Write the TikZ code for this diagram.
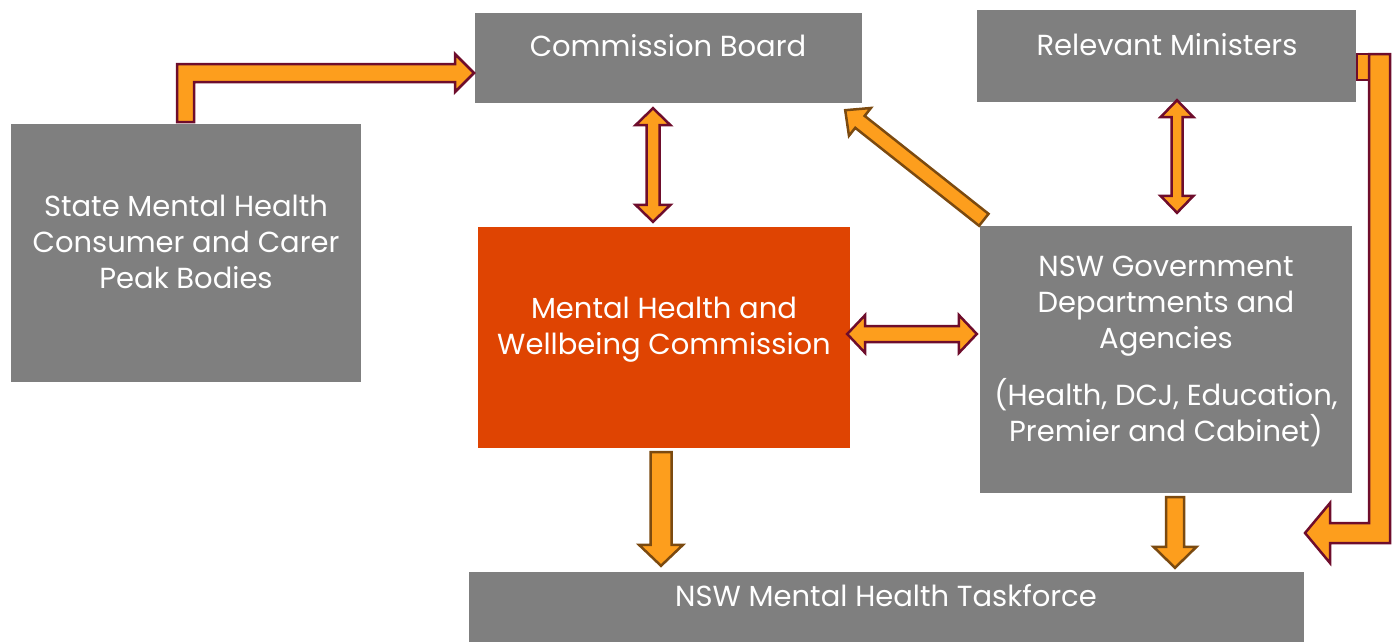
\documentclass[tikz,border=0pt]{standalone}
\usepackage{fontspec}
\setmainfont{Poppins}
\usetikzlibrary{calc}
\definecolor{boxgray}{HTML}{7F7F7F}
\definecolor{commorange}{HTML}{DF4402}
\definecolor{arrowfill}{HTML}{FD9E1D}
\definecolor{arrowmaroon}{HTML}{6E0D2C}
\definecolor{arrowbrown}{HTML}{7B4A10}

\tikzset{
  box/.style={fill=boxgray, draw=none, inner sep=0pt},
  lbl/.style={text=white, font=\fontsize{29}{36}\selectfont, align=center, inner sep=0pt},
  arrowA/.style={fill=arrowfill, draw=arrowmaroon, line width=2.5pt, line join=miter},
  arrowB/.style={fill=arrowfill, draw=arrowbrown, line width=2.5pt, line join=miter},
}

% block arrow: #1 style, #2 tail, #3 tip, #4 half shaft, #5 half head, #6 head length
\newcommand\blockarrow[6]{%
  \coordinate (ba-h) at ($(#3)!#6!(#2)$);
  \draw[#1] ($(#2)!#4!90:(#3)$) -- ($(ba-h)!#4!-90:(#2)$) -- ($(ba-h)!#5!-90:(#2)$)
    -- (#3) -- ($(ba-h)!#5!90:(#2)$) -- ($(ba-h)!#4!90:(#2)$) -- ($(#2)!#4!-90:(#3)$) -- cycle;
}
% two-headed block arrow between tips #2 and #3
\newcommand\twoheadarrow[6]{%
  \coordinate (da-a) at ($(#2)!#6!(#3)$);
  \coordinate (da-b) at ($(#3)!#6!(#2)$);
  \draw[#1] (#2) -- ($(da-a)!#5!90:(#3)$) -- ($(da-a)!#4!90:(#3)$)
    -- ($(da-b)!#4!-90:(#2)$) -- ($(da-b)!#5!-90:(#2)$) -- (#3)
    -- ($(da-b)!#5!90:(#2)$) -- ($(da-b)!#4!90:(#2)$)
    -- ($(da-a)!#4!-90:(#3)$) -- ($(da-a)!#5!-90:(#3)$) -- cycle;
}

\begin{document}
\begin{tikzpicture}[x=1pt, y=-1pt]
\useasboundingbox (0,0) rectangle (1395,641);

% boxes
\node[box, minimum width=387pt, minimum height=90pt] (cb) at (668.5,58) {};
\node[box, minimum width=379pt, minimum height=92pt] (rm) at (1166.5,56) {};
\node[box, minimum width=350pt, minimum height=258pt] (st) at (186,253) {};
\node[box, fill=commorange, minimum width=372pt, minimum height=221pt] (mh) at (664,337.5) {};
\node[box, minimum width=372pt, minimum height=267pt] (ng) at (1166,359.5) {};
\node[box, minimum width=835pt, minimum height=77pt] (tf) at (886.5,610.5) {};

% labels
\node[lbl] (cb-t) at (668,46) {Commission Board};
\node[lbl] (rm-t) at (1167,45) {Relevant Ministers};
\node[lbl] (st-t) at (186,242) {State Mental Health\\Consumer and Carer\\Peak Bodies};
\node[lbl] (mh-t) at (664,329.5) {Mental Health and\\Wellbeing Commission};
\node[lbl] (ng-t) at (1166,351.5) {NSW Government\\Departments and\\Agencies\\[21pt](Health, DCJ, Education,\\Premier and Cabinet)};
\node[lbl] (tf-t) at (886,596) {NSW Mental Health Taskforce};

% connector end points
\coordinate (cb-d) at ($(cb.south)+(-15.5,5)$);
\coordinate (mh-u) at ($(mh.north)+(-11,-5)$);
\coordinate (rm-d) at ($(rm.south)+(10.5,-2)$);
\coordinate (ng-u) at ($(ng.north)+(11,-13)$);
\coordinate (mh-r) at ($(mh.east)+(-3,-3.5)$);
\coordinate (ng-l) at ($(ng.west)+(-3,-25.5)$);
\coordinate (mh-d) at ($(mh.south)+(-3,4)$);
\coordinate (tf-u1) at ($(mh.south |- tf.north)+(-3,-6)$);
\coordinate (ng-d) at ($(ng.south)+(9,4)$);
\coordinate (tf-u2) at ($(ng.south |- tf.north)+(9,-4)$);
\coordinate (ng-ul) at ($(ng.north west)+(4,-6)$);
\coordinate (cb-dr) at ($(cb.south east)+(-17,7)$);

% straight connectors
\twoheadarrow{arrowA}{cb-d}{mh-u}{6.5pt}{17.5pt}{17pt}
\twoheadarrow{arrowA}{rm-d}{ng-u}{5.5pt}{16.5pt}{17pt}
\twoheadarrow{arrowA}{mh-r}{ng-l}{8pt}{19pt}{18pt}
\blockarrow{arrowB}{mh-d}{tf-u1}{10.5pt}{22pt}{21pt}
\blockarrow{arrowB}{ng-d}{tf-u2}{9pt}{21.5pt}{21pt}
\blockarrow{arrowB}{ng-ul}{cb-dr}{7.6pt}{17.7pt}{18.8pt}

% bent connector: peak bodies -> commission board
\draw[arrowA] (177,122) -- (177,64) -- (455,64) -- (455,54) -- (474,73)
  -- (455,92) -- (455,82) -- (194,82) -- (194,122) -- cycle;

% bent connector: ministers -> taskforce
\draw[arrowA] (1357,54) rectangle (1369,80);
\draw[arrowA] (1369,54) -- (1390,54) -- (1390,543) -- (1330,543) -- (1330,563)
  -- (1305,533) -- (1330,503) -- (1330,523) -- (1369,523) -- cycle;
\end{tikzpicture}
\end{document}
